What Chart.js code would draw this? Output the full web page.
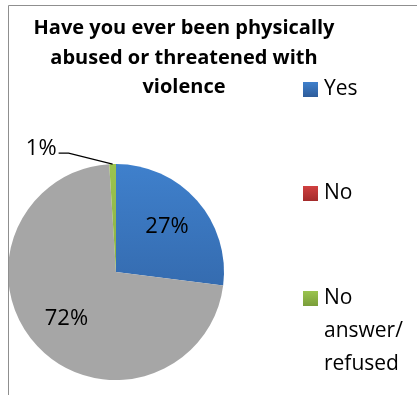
<!DOCTYPE html>
<html>
<head>
<meta charset="utf-8">
<script src="https://cdn.jsdelivr.net/npm/chart.js@4.4.1/dist/chart.umd.min.js"></script>
<style>
  html, body { margin: 0; padding: 0; background: #fff; }
  #wrap { width: 417px; height: 395px; position: relative; }
</style>
</head>
<body>
<div id="wrap"><canvas id="pieChart" width="417" height="395"></canvas></div>
<script>
const categories = ['Yes', 'No', 'No answer/refused'];
const shares = [27, 72, 1];
const titleLines = ['Have you ever been physically', 'abused or threatened with', 'violence'];
const legendLines = [['Yes'], ['No'], ['No', 'answer/', 'refused']];

const sliceColors = [['#3f80cc', '#2d5c9a'], ['#a6a6a6', '#a6a6a6'], ['#9bc44f', '#7a9e3a']];
const legendColors = [['#3f80cc', '#2d5c9a'], ['#d04040', '#a32b2b'], ['#9bc44f', '#7a9e3a']];

const FONT = '"Open Sans", Lato, sans-serif';

function fillFor(ctx, pair, top, bottom) {
    const g = ctx.createLinearGradient(0, top, 0, bottom);
    g.addColorStop(0, pair[0]);
    g.addColorStop(1, pair[1]);
    return g;
}

const decorations = {
    id: 'decorations',
    afterDraw(chart) {
        const ctx = chart.ctx;
        ctx.save();

        // frame (cut off on the right and bottom)
        ctx.strokeStyle = '#8f8f8f';
        ctx.lineWidth = 1;
        ctx.beginPath();
        ctx.moveTo(8.5, 395);
        ctx.lineTo(8.5, 5.5);
        ctx.lineTo(417, 5.5);
        ctx.stroke();

        // title
        ctx.fillStyle = '#000';
        ctx.font = 'bold 20px ' + FONT;
        ctx.textAlign = 'center';
        ctx.textBaseline = 'alphabetic';
        titleLines.forEach((line, i) => ctx.fillText(line, 184, 34 + i * 29.5));

        // legend
        const centers = [89, 193, 298];
        ctx.font = '21px ' + FONT;
        ctx.textAlign = 'left';
        legendLines.forEach((lines, i) => {
            const cy = centers[i];
            ctx.fillStyle = fillFor(ctx, legendColors[i], cy - 7, cy + 8);
            ctx.fillRect(303, cy - 7, 15, 15);
            ctx.fillStyle = '#000';
            ctx.textBaseline = 'middle';
            lines.forEach((t, j) => ctx.fillText(t, 324, cy + j * 33));
        });

        // data labels
        const meta = chart.getDatasetMeta(0);
        ctx.font = '22px ' + FONT;
        ctx.textAlign = 'center';
        ctx.textBaseline = 'middle';
        meta.data.forEach((arc, i) => {
            const p = arc.getProps(['x', 'y', 'startAngle', 'endAngle', 'outerRadius'], true);
            const mid = (p.startAngle + p.endAngle) / 2;
            const label = shares[i] + '%';
            if (shares[i] >= 5) {
                const r = p.outerRadius * 0.63;
                ctx.fillStyle = '#000';
                ctx.fillText(label, p.x + Math.cos(mid) * r, p.y + Math.sin(mid) * r);
            } else {
                const ex = p.x + Math.cos(mid) * p.outerRadius;
                const ey = p.y + Math.sin(mid) * p.outerRadius;
                const kx = ex - 44, ky = ey - 11;
                ctx.strokeStyle = '#000';
                ctx.lineWidth = 1.2;
                ctx.beginPath();
                ctx.moveTo(ex, ey);
                ctx.lineTo(kx, ky);
                ctx.lineTo(kx - 10, ky);
                ctx.stroke();
                ctx.fillStyle = '#000';
                ctx.textAlign = 'right';
                ctx.fillText(label, kx - 12, ky - 4);
                ctx.textAlign = 'center';
            }
        });
        ctx.restore();
    }
};

new Chart(document.getElementById('pieChart'), {
    type: 'pie',
    data: {
        labels: categories,
        datasets: [{
            data: shares,
            backgroundColor: (c) => {
                const area = c.chart.chartArea;
                if (!area) return sliceColors[c.dataIndex][0];
                return fillFor(c.chart.ctx, sliceColors[c.dataIndex], area.top, area.bottom);
            },
            borderWidth: 0
        }]
    },
    options: {
        responsive: false,
        animation: false,
        layout: { padding: { left: 8, right: 193, top: 164, bottom: 15 } },
        plugins: {
            legend: { display: false },
            title: { display: false },
            tooltip: { enabled: false }
        }
    },
    plugins: [decorations]
});
</script>
</body>
</html>
